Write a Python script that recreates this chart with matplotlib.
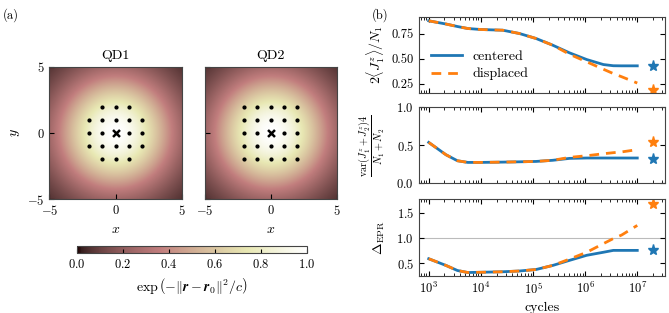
import numpy as np
import matplotlib
matplotlib.use("Agg")
import matplotlib.pyplot as plt

plt.rcParams['font.family'] = ['cmr10', 'DejaVu Serif']
plt.rcParams['mathtext.fontset'] = 'cm'
plt.rcParams['axes.formatter.use_mathtext'] = True
plt.rcParams['font.size'] = 9
plt.rcParams['xtick.direction'] = 'in'
plt.rcParams['ytick.direction'] = 'in'
plt.rcParams['axes.edgecolor'] = '#444444'

# --- data (a): sampling points of the two dots
qd1_x = [-1, 0, 1, -2, -1, 0, 1, 2, -2, -1, 1, 2, -2, -1, 0, 1, 2, -1, 0, 1]
qd1_y = [2, 2, 2, 1, 1, 1, 1, 1, 0, 0, 0, 0, -1, -1, -1, -1, -1, -2, -2, -2]
qd2_x = [-2, -1, 0, 1, 2] * 2 + [-2, -1, 1, 2] + [-2, -1, 0, 1, 2] * 2
qd2_y = [2] * 5 + [1] * 5 + [0] * 4 + [-1] * 5 + [-2] * 5
gauss_c = 18.0
cbar_ticks = [0.0, 0.2, 0.4, 0.6, 0.8, 1.0]

# --- data (b): log10(cycles) and curves
log_cycles = [3.0, 3.33, 3.55, 3.75, 4.0, 4.42, 4.74, 5.06, 5.38, 5.7, 6.03, 6.35, 6.54, 6.7, 7.0]
pol_centered = [0.877, 0.845, 0.82, 0.80, 0.79, 0.783, 0.75, 0.70, 0.633, 0.557, 0.49, 0.44, 0.428, 0.427, 0.427]
pol_displaced = [0.877, 0.845, 0.82, 0.80, 0.79, 0.783, 0.75, 0.70, 0.633, 0.543, 0.467, 0.393, 0.35, 0.318, 0.255]
var_centered = [0.535, 0.373, 0.294, 0.272, 0.272, 0.276, 0.28, 0.285, 0.30, 0.325, 0.33, 0.33, 0.33, 0.33, 0.33]
var_displaced = [0.535, 0.373, 0.294, 0.272, 0.272, 0.276, 0.28, 0.285, 0.30, 0.338, 0.36, 0.386, 0.40, 0.41, 0.44]
epr_centered = [0.592, 0.46, 0.36, 0.32, 0.325, 0.335, 0.35, 0.38, 0.46, 0.56, 0.66, 0.72, 0.757, 0.757, 0.757]
epr_displaced = [0.592, 0.46, 0.36, 0.32, 0.325, 0.335, 0.35, 0.38, 0.46, 0.585, 0.72, 0.89, 0.99, 1.06, 1.25]
star_cycles = 2e7
star_pol = [0.426, 0.19]
star_var = [0.32, 0.535]
star_epr = [0.757, 1.68]

cycles = 10.0 ** np.array(log_cycles)

fig = plt.figure(figsize=(6.69, 3.13), dpi=100)

# ---------------- (a) ----------------
grid = np.linspace(-5, 5, 301)
X, Y = np.meshgrid(grid, grid)
Z = np.exp(-(X**2 + Y**2) / gauss_c)

ax1 = fig.add_axes([0.0732, 0.364, 0.199, 0.422])
ax2 = fig.add_axes([0.305, 0.364, 0.199, 0.422])
for ax, px, py, title in [(ax1, qd1_x, qd1_y, 'QD1'), (ax2, qd2_x, qd2_y, 'QD2')]:
    im = ax.imshow(Z, extent=[-5, 5, -5, 5], origin='lower', cmap='pink', vmin=0, vmax=1)
    ax.scatter(px, py, s=4, color='black', zorder=3)
    ax.scatter([0], [0], marker='x', s=25, color='black', linewidths=1.8, zorder=3)
    ax.set_xticks([-5, 0, 5])
    ax.set_yticks([-5, 0, 5])
    ax.set_xlabel(r'$x$', fontsize=10)
    ax.set_title(title, fontsize=10)
ax1.set_ylabel(r'$y$', fontsize=10)
ax2.set_yticklabels([])

cax = fig.add_axes([0.115, 0.192, 0.344, 0.022])
cb = fig.colorbar(im, cax=cax, orientation='horizontal', ticks=cbar_ticks)
cb.ax.tick_params(direction='in', length=3)
cb.set_label(r'$\exp\left(-\Vert \mathbfit{r}-\mathbfit{r}_0\Vert^2/c\right)$', fontsize=10)

fig.text(0.004, 0.975, '(a)', fontsize=9, va='top')
fig.text(0.556, 0.975, '(b)', fontsize=9, va='top')

# ---------------- (b) ----------------
axt = fig.add_axes([0.626, 0.703, 0.368, 0.243])
axm = fig.add_axes([0.626, 0.415, 0.368, 0.243])
axb = fig.add_axes([0.626, 0.118, 0.368, 0.246])

panels = [
    (axt, pol_centered, pol_displaced, star_pol, (0.156, 0.916), [0.25, 0.5, 0.75], r'$2\langle J_1^z\rangle/N_1$'),
    (axm, var_centered, var_displaced, star_var, (0.0, 1.0), [0.0, 0.5, 1.0], r'$\frac{\mathrm{var}(J_1^z+J_2^z)4}{N_1+N_2}$'),
    (axb, epr_centered, epr_displaced, star_epr, (0.25, 1.77), [0.5, 1.0, 1.5], r'$\Delta_{\mathrm{EPR}}$'),
]
for ax, cen, dis, stars, ylim, yt, ylab in panels:
    ax.plot(cycles, cen, color='C0', lw=2, label='centered')
    ax.plot(cycles, dis, color='C1', lw=2, ls=(0, (3.5, 2.5)), label='displaced')
    ax.plot([star_cycles], [stars[0]], marker='*', ms=8, color='C0', ls='none')
    ax.plot([star_cycles], [stars[1]], marker='*', ms=8, color='C1', ls='none')
    ax.set_xscale('log')
    ax.set_xlim(645, 3.4e7)
    ax.set_ylim(*ylim)
    ax.set_yticks(yt)
    ax.set_ylabel(ylab, fontsize=10 if ax is not axm else 10.5)
    ax.tick_params(which='both', top=True, right=True)
    ax.tick_params(which='major', length=3.5)
    ax.tick_params(which='minor', length=2)

axt.set_yticklabels(['0.25', '0.50', '0.75'])
axb.axhline(1.0, color='#bbbbbb', lw=0.8, zorder=0)
axt.tick_params(labelbottom=False)
axm.tick_params(labelbottom=False)
axb.set_xticks([1e3, 1e4, 1e5, 1e6, 1e7])
axb.set_xlabel('cycles', fontsize=10)
axt.legend(loc='lower left', bbox_to_anchor=(0.0, 0.0), frameon=False, fontsize=10,
           handlelength=2.2, labelspacing=0.35)
for ax in (axt, axm, axb):
    ax.yaxis.set_label_coords(-0.13, 0.5)

fig.savefig('out.png', dpi=100)
